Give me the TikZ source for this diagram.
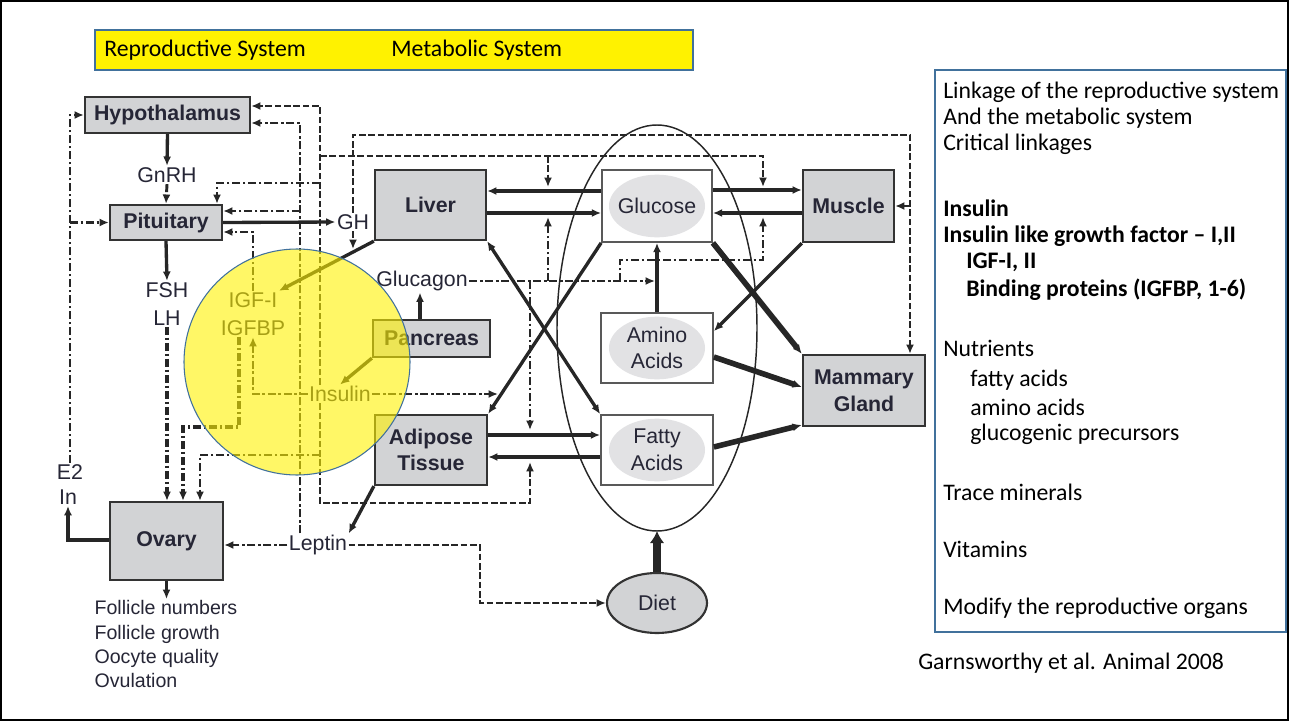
\documentclass[tikz,border=0pt]{standalone}
\usepackage{fontspec}
\setmainfont{Liberation Sans}
\newfontfamily\calfont{Carlito}
\usetikzlibrary{arrows.meta,calc,shapes.geometric}
\definecolor{txt}{HTML}{262636}
\definecolor{boxblue}{HTML}{41719C}
\definecolor{boxfill}{HTML}{D2D3D5}
\definecolor{ellfill}{HTML}{E2E2E4}
\tikzset{
  organ/.style={draw=black!80, fill=boxfill, line width=1.7pt, text=txt, align=center,
    font=\bfseries\fontsize{16}{20}\selectfont, inner sep=0pt},
  nutr/.style={draw=black!65, fill=white, line width=1.3pt, text=txt, align=center,
    font=\fontsize{16}{20}\selectfont, inner sep=0pt,
    path picture={\fill[ellfill] (path picture bounding box.center) ellipse [x radius=36pt, y radius=23.5pt];}},
  lbl/.style={font=\fontsize{16}{19}\selectfont, text=txt, inner sep=1pt},
  rt/.style={anchor=west, font=\calfont\fontsize{17.8}{21}\selectfont, inner sep=0pt, text=black},
  rtb/.style={rt, font=\calfont\bfseries\fontsize{17.8}{21}\selectfont},
  hd/.style={line width=2.1pt, black!85, dash pattern=on 5pt off 2pt},
  hdd/.style={line width=2.2pt, black!85, dash pattern=on 6pt off 2pt on 2pt off 2pt},
  hddk/.style={line width=2.8pt, black!85, dash pattern=on 6pt off 2pt on 2pt off 2pt},
  sol/.style={line width=2.5pt, black!85},
  solk/.style={line width=3.4pt, black!85},
  thk/.style={line width=4.2pt, black!85},
  arr/.style={-{Latex[length=7pt,width=6pt]}},
  arrb/.style={{Latex[length=7pt,width=6pt]}-{Latex[length=7pt,width=6pt]}},
}
\begin{document}
\begin{tikzpicture}[x=0.75pt,y=-0.75pt]
\useasboundingbox (0,0) rectangle (1290,721);
\draw[line width=1.2pt] (1,1) rectangle (1288,720);

% header
\draw[draw=boxblue, fill=yellow, line width=0.8pt] (95,30) rectangle (693,70);
\node[rt] (h1) at (104,50) {Reproductive System};
\node[rt] (h2) at (391,50) {Metabolic System};

% right panel
\draw[draw=boxblue, line width=1pt] (935,70) rectangle (1286,632);
\node[rt] (r1) at (943,92) {Linkage of the reproductive system};
\node[rt] (r2) at (943,118) {And the metabolic system};
\node[rt] (r3) at (943,144) {Critical linkages};
\node[rtb] (r4) at (943,208) {Insulin};
\node[rtb] (r5) at (943,236) {Insulin like growth factor – I,II};
\node[rtb] (r6) at (966,262) {IGF-I, II};
\node[rtb] (r7) at (966,290) {Binding proteins (IGFBP, 1-6)};
\node[rt] (r8) at (943,348) {Nutrients};
\node[rt] (r9) at (970,380) {fatty acids};
\node[rt] (r10) at (970,407) {amino acids};
\node[rt] (r11) at (970,434) {glucogenic precursors};
\node[rt] (r12) at (943,492) {Trace minerals};
\node[rt] (r13) at (943,549) {Vitamins};
\node[rt] (r14) at (943,608) {Modify the reproductive organs};
\node[rt] (r15) at (918,663) {Garnsworthy et al. Animal 2008};

% big ellipse
\draw[line width=1.1pt, black!85] (657,328) ellipse [x radius=75pt, y radius=152.25pt];
\coordinate (ellbot) at (657,531);

% boxes
\node[organ, minimum width=123.75pt, minimum height=27pt] (hyp) at (167.5,115) {Hypothalamus};
\node[organ, minimum width=84pt, minimum height=26.25pt] (pit) at (166,222.5) {Pituitary};
\node[organ, minimum width=84.75pt, minimum height=58.5pt] (ovary) at (166.5,541) {Ovary};
\node[organ, minimum width=83.25pt, minimum height=52.5pt] (liver) at (430.5,205) {Liver};
\node[organ, minimum width=87.75pt, minimum height=27.75pt] (pancreas) at (431.5,338.5) {Pancreas};
\node[organ, minimum width=84pt, minimum height=52.5pt] (adipose) at (431,450) {Adipose\\Tissue};
\node[organ, minimum width=68.25pt, minimum height=54pt] (muscle) at (848.5,206) {Muscle};
\node[organ, minimum width=91.5pt, minimum height=53.25pt] (mammary) at (864,390.5) {Mammary\\Gland};
\node[nutr, minimum width=82.5pt, minimum height=54pt] (glucose) at (657,206) {Glucose};
\node[nutr, minimum width=84pt, minimum height=52.5pt] (amino) at (657,348) {Amino\\Acids};
\node[nutr, minimum width=84pt, minimum height=52.5pt] (fatty) at (657,450) {Fatty\\Acids};
\node[ellipse, draw=black!80, fill=boxfill, line width=1.6pt, minimum width=75pt, minimum height=45pt,
  inner sep=0pt, text=txt, font=\fontsize{16}{19}\selectfont] (diet) at (657,603) {Diet};

% labels
\node[lbl] (gnrh) at (167,175) {GnRH};
\node[lbl] (fsh) at (167,290) {FSH};
\node[lbl] (lh) at (167,318) {LH};
\node[lbl] (e2) at (70,472) {E2};
\node[lbl] (inn) at (68,497) {In};
\node[lbl] (gh) at (353,222) {GH};
\node[lbl] (glucagon) at (422,281) {Glucagon};
\node[lbl] (insulin) at (340,394) {Insulin};
\node[lbl] (leptin) at (318,545) {Leptin};
\node[lbl] (igf) at (253,300) {IGF-I};
\node[lbl] (igfbp) at (253,328) {IGFBP};
\node[lbl, anchor=north west, align=left, font=\fontsize{14.7}{18.2}\selectfont] (foll) at (93,599)
  {Follicle numbers\\Follicle growth\\Oocyte quality\\Ovulation};

% reproductive axis
\draw[sol,arr] (hyp.south) -- (gnrh.north);
\draw[hdd,arr] (gnrh.south) -- (pit.north);
\draw[sol,arr] (pit.south) -- (fsh.north);
\draw[hddk,arr] (lh.south) -- (lh.south |- ovary.north);
\draw[sol,arr] (ovary.west |- 0,540) -| (inn.south);
\draw[hdd,arr] (e2.north) |- (hyp.west);
\coordinate (e2b) at (e2.north |- pit.west);
\draw[hdd,arr] (e2b) -- (pit.west);
\draw[sol,arr] (ovary.south) -- (foll.north -| ovary.south);
\draw[sol,arr] (pit.east) -- (gh.west);

% GH
\coordinate (ghc) at (910,135);
\draw[hd,arr] (gh.north) |- (ghc) -- (mammary.north -| ghc);
\draw[hd,arr] (muscle.east -| ghc) -- (muscle.east);
\coordinate (ghd) at (353,249);
\draw[hd,arr] (gh.south) -- (ghd);
\draw[sol,arr] (liver.south west) -- (igf.north east);

% leptin
\coordinate (lpx) at (300,0);
\draw[hdd,arr] (leptin.north -| lpx) |- (hyp.east |- 0,123);
\draw[hdd,arr] (lpx |- 0,211) -- (pit.east |- 0,211);
\draw[hdd,arr] (leptin.west) -- (ovary.east |- leptin.west);
\coordinate (dk) at (480,603);
\draw[hd,line width=1.7pt,arr] (leptin.east) -| (dk) -- (diet.west);
\draw[sol,arr] (adipose.south west) -- (leptin.north east);

% insulin
\coordinate (ix) at (320,0);
\coordinate (gm1) at (763,187);
\coordinate (lg1) at (548,187);
\coordinate (gm2) at (763,217);
\coordinate (lg2) at (548,217);
\coordinate (af1) at (530,430);
\coordinate (af2) at (530,462);
\coordinate (ins2) at (498,394);
\coordinate (ib) at (183,427);
\draw[hd,arr] (insulin.north -| ix) |- (hyp.east |- 0,106);
\draw[hd,arr] (ix |- 0,156) -| (gm1);
\draw[hd,arr] (lg1 |- 0,156) -- (lg1);
\draw[hdd,arr] (ix |- 0,183) -| (pit.north -| 217,0);
\draw[hd,arr] (insulin.south -| ix) |- (af2 |- 0,503) -- (af2);
\draw[hdd,arr] (ix |- 0,455) -| (ovary.north -| 200,0);
\draw[hdd,arr] (insulin.west) -| (igfbp.south);
\draw[hdd,arr] (insulin.east) -- (ins2);
\draw[sol,arr] (pancreas.south west) -- (insulin.north);

% IGF
\draw[hddk,arr] (igfbp.south -| 239,0) |- (ib) -- (ovary.north -| ib);
\draw[hdd,arr] (igf.north) |- (pit.east |- 0,232);

% glucagon
\draw[sol,arr] (pancreas.north -| 420,0) -- (glucagon.south -| 420,0);
\coordinate (gk) at ($(amino.north |- glucagon.east)+(-2,0)$);
\draw[hdd,arr] (glucagon.east) -- (gk);
\draw[hdd,arr] (lg2 |- glucagon.east) -- (lg2);
\draw[hdd,arr] (af1 |- glucagon.east) -- (af1);
\draw[hdd,arr] (glucagon.east -| 620,0) |- (gm2 |- 0,260) -- (gm2);

% nutrient fluxes
\draw[sol,arr] (glucose.west |- 0,191) -- (liver.east |- 0,191);
\draw[sol,arr] (liver.east |- 0,213) -- (glucose.west |- 0,213);
\draw[sol,arr] (glucose.east |- 0,190) -- (muscle.west |- 0,190);
\draw[sol,arr] (muscle.west |- 0,213) -- (glucose.east |- 0,213);
\draw[sol,arr] (adipose.east |- 0,435) -- (fatty.west |- 0,435);
\draw[solk,arr] (fatty.west |- 0,457) -- (adipose.east |- 0,457);
\draw[sol,arr] (amino.north) -- (glucose.south);
\draw[sol,arrb] (liver.south east) -- (fatty.north west);
\draw[sol,arr] (glucose.south west) -- (adipose.north east);
\draw[thk,arr] (glucose.south east) -- (mammary.north west);
\draw[sol,arr] (muscle.south west) -- ($(amino.north east)+(0,19)$);
\draw[thk,arr] (amino.east |- 0,357) -- (mammary.west |- 0,387);
\draw[thk,arr] (fatty.east |- 0,447) -- (mammary.west |- 0,425);
\draw[line width=5.5pt, black!85, -{Latex[length=9pt,width=11pt]}] (diet.north) -- (ellbot);

% highlight circle
\draw[draw=boxblue, line width=0.8pt, fill=yellow, fill opacity=0.6] (297,362) circle [radius=84.75pt];
\end{tikzpicture}
\end{document}
